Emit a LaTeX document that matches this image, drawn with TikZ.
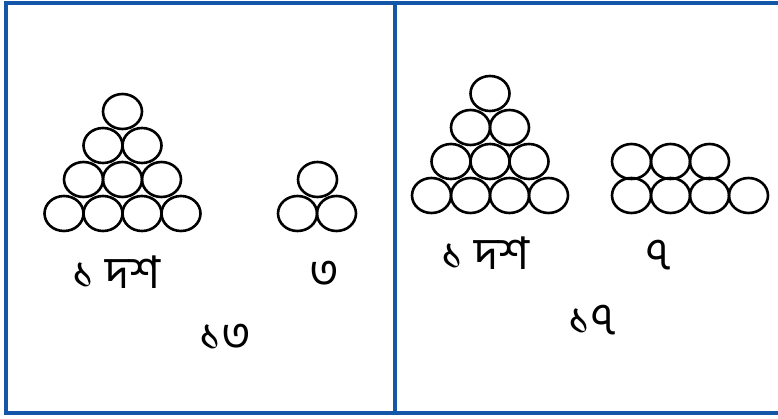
\documentclass[tikz,border=0pt]{standalone}
\usepackage{fontspec}
\usepackage{tikz}
\usetikzlibrary{positioning}
\newfontfamily\bnfont[Script=Bengali]{Hind Siliguri}
\definecolor{frameblue}{RGB}{20,86,168}

\begin{document}
\begin{tikzpicture}[
  x=1pt, y=-1pt,
  frame/.style={draw=frameblue, line width=4pt},
  bead/.style={draw=black, line width=2.6pt},
  label/.style={inner sep=0pt, font=\bnfont\fontsize{45}{50}\selectfont}
]
\useasboundingbox (0,0) rectangle (778,418);

% panels
\draw[frame] (778,3) -- (6,3) -- (6,413) -- (778,413);
\draw[frame] (394.5,3) -- (394.5,413);

% left panel: ten as a triangle, then three
\foreach \row/\n in {0/4,1/3,2/2,3/1}
  \foreach \i in {1,...,\n}
    \draw[bead] ({64+19.5*\row+39*(\i-1)},{213.5-34*\row}) ellipse [x radius=19.5, y radius=17.5];
\draw[bead] (317.5,179.5) ellipse [x radius=19.5, y radius=17.5];
\foreach \x in {297.5,336.5}
  \draw[bead] (\x,213.5) ellipse [x radius=19.5, y radius=17.5];

\node[label] (tenL)   at (116.5,272) {১ দশ};
\node[label] (oneL)   at (324.5,274.5) {৩};
\node[label] (sumL)   at (225.5,337.5) {১৩};

% right panel: ten as a triangle, then seven
\foreach \row/\n in {0/4,1/3,2/2,3/1}
  \foreach \i in {1,...,\n}
    \draw[bead] ({431.5+19.5*\row+39*(\i-1)},{195.5-34*\row}) ellipse [x radius=19.5, y radius=17.5];
\foreach \x in {631.5,670.5,709.5}
  \draw[bead] (\x,161.5) ellipse [x radius=19.5, y radius=17.5];
\foreach \x in {631.5,670.5,709.5,748.5}
  \draw[bead] (\x,195.5) ellipse [x radius=19.5, y radius=17.5];

\node[label] (tenR)   at (485.5,253) {১ দশ};
\node[label] (oneR)   at (659,255) {৭};
\node[label] (sumR)   at (592.5,320) {১৭};
\end{tikzpicture}
\end{document}
